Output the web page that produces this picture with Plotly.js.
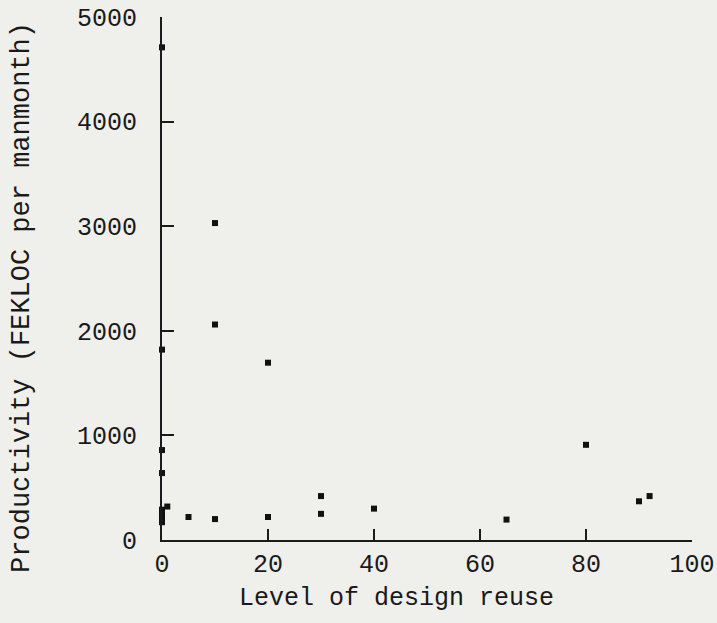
<!DOCTYPE html>
<html>
<head>
<meta charset="utf-8">
<script src="https://cdn.plot.ly/plotly-3.0.1.min.js"></script>
<style>
html,body{margin:0;padding:0;background:#efefeb;}
#chart{width:717px;height:623px;}
</style>
</head>
<body>
<div id="chart"></div>
<script>
// Level of design reuse (%)
const reuseLevel = [0, 0, 0, 0, 0, 0, 0, 0, 1, 5, 10, 10, 10, 20, 20, 30, 30, 40, 65, 80, 90, 92];
// Productivity (FEKLOC per manmonth)
const productivity = [4710, 1820, 860, 640, 290, 250, 210, 170, 320, 220, 3030, 2060, 200, 1695, 220, 420, 250, 300, 195, 910, 370, 420];
const xTicks = [0, 20, 40, 60, 80, 100];
const yTicks = [0, 1000, 2000, 3000, 4000, 5000];
const xTitle = "Level of design reuse";
const yTitle = "Productivity (FEKLOC per manmonth)";

const FONT = '"Courier New", "Liberation Mono", monospace';
const INK = '#1a1a1a';

const trace = {
  x: reuseLevel,
  y: productivity,
  type: 'scatter',
  mode: 'markers',
  cliponaxis: false,
  marker: {symbol: 'square', size: 6, color: '#111111', line: {width: 0}},
  hoverinfo: 'x+y'
};

const layout = {
  width: 717,
  height: 623,
  margin: {l: 162, r: 25, t: 17, b: 83},
  paper_bgcolor: '#efefeb',
  plot_bgcolor: '#efefeb',
  showlegend: false,
  font: {family: FONT, color: INK, size: 25},
  xaxis: {
    range: [0, 100],
    tickvals: xTicks,
    ticktext: xTicks.map(String),
    ticks: 'inside',
    ticklen: 11,
    tickwidth: 2,
    tickcolor: INK,
    showline: true,
    linecolor: INK,
    linewidth: 2,
    showgrid: false,
    zeroline: false,
    ticklabelstandoff: 0,
    tickfont: {family: FONT, size: 25, color: INK}
  },
  yaxis: {
    range: [0, 5000],
    tickvals: yTicks,
    ticktext: yTicks.map(String),
    ticks: 'inside',
    ticklen: 12,
    tickwidth: 2,
    tickcolor: INK,
    showline: true,
    linecolor: INK,
    linewidth: 2,
    showgrid: false,
    zeroline: false,
    ticklabelstandoff: 18,
    tickfont: {family: FONT, size: 25, color: INK}
  },
  annotations: [
    {
      text: xTitle, xref: 'paper', yref: 'paper',
      x: 0.443, y: -0.112, xanchor: 'center', yanchor: 'middle',
      showarrow: false, font: {family: FONT, size: 25, color: INK}
    },
    {
      text: yTitle, xref: 'paper', yref: 'paper',
      x: -0.264, y: 0.463, xanchor: 'center', yanchor: 'middle',
      textangle: -90,
      showarrow: false, font: {family: FONT, size: 27, color: INK}
    }
  ]
};

Plotly.newPlot('chart', [trace], layout, {displayModeBar: false, staticPlot: true});
</script>
</body>
</html>
